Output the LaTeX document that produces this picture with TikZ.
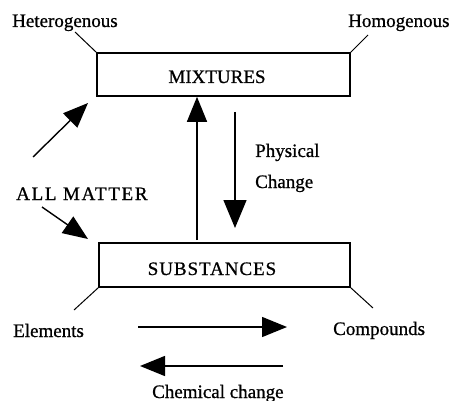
\documentclass[tikz,border=0pt]{standalone}
\usepackage{fontspec}
\setmainfont{Liberation Serif}[FakeBold=0.8]
\newfontfamily\spaced{Liberation Serif}[FakeBold=0.8,LetterSpace=5]
\newfontfamily\widespaced{Liberation Serif}[FakeBold=0.8,LetterSpace=9]
\usetikzlibrary{arrows.meta}
\begin{document}
\begin{tikzpicture}[x=1pt,y=-1pt,
  lbl/.style={anchor=base west,inner sep=0pt,font=\fontsize{19}{22}\selectfont},
  boxnode/.style={draw,line width=1.6pt,inner sep=0pt},
  boxtext/.style={anchor=base,inner sep=0pt,font=\fontsize{19}{22}\selectfont},
  thin/.style={line width=1pt},
  arr/.style={line width=1.4pt,-{Triangle[length=25pt,width=20pt]}}]
\useasboundingbox (0,0) rectangle (455,401);
\fill[white] (0,0) rectangle (455,401);
% boxes
\node[boxnode,minimum width=253pt,minimum height=43pt] (mix) at (223.5,74.5) {};
\node[boxtext] (mixt) at (217,83) {MIXTURES};
\node[boxnode,minimum width=251pt,minimum height=44pt] (sub) at (224.5,265) {};
\node[boxtext] (subt) at (212,275) {\spaced SUBSTANCES};
% labels
\node[lbl] (het) at (12,27) {Heterogenous};
\node[lbl] (hom) at (348,27) {Homogenous};
\node[lbl] (phys) at (255,157) {Physical};
\node[lbl] (chg) at (255,188) {Change};
\node[lbl] (all) at (16,200) {\widespaced ALL MATTER};
\node[lbl] (ele) at (13,337) {Elements};
\node[lbl] (comp) at (333,335) {Compounds};
\node[lbl] (chem) at (152,398) {Chemical change};
% tie lines
\coordinate (hetc) at (75,32);
\coordinate (homc) at (368,35);
\coordinate (elec) at (74,310);
\coordinate (compc) at (373,308);
\draw[thin] (mix.north west) -- (hetc);
\draw[thin] (mix.north east) -- (homc);
\draw[thin] (sub.south west) -- (elec);
\draw[thin] (sub.south east) -- (compc);
% arrows
\coordinate (a1s) at (33,157);
\coordinate (a1e) at (88,103);
\coordinate (a2s) at (42,207);
\coordinate (a2e) at (88,239);
\draw[arr] (a1s) -- (a1e);
\draw[arr] (a2s) -- (a2e);
\coordinate (ups) at (197,240);
\draw[arr] (ups) -- (ups |- mix.south);
\coordinate (dns) at (235,112);
\coordinate (dne) at (235,228);
\draw[arr,-{Triangle[length=28pt,width=23pt]}] (dns) -- (dne);
\coordinate (rs) at (138,327);
\coordinate (re) at (287,327);
\draw[arr] (rs) -- (re);
\coordinate (ls) at (283,366);
\coordinate (le) at (140,366);
\draw[arr] (ls) -- (le);
\end{tikzpicture}
\end{document}
